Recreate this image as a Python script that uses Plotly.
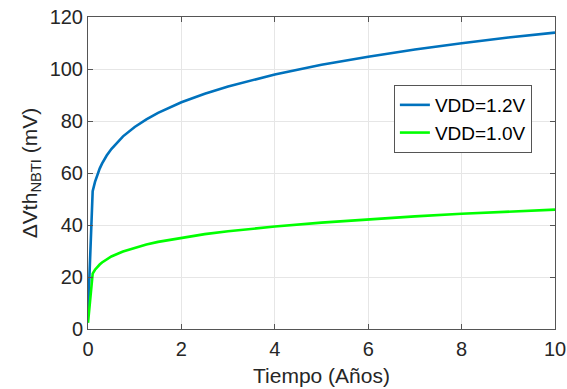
import plotly.graph_objects as go

# Threshold-voltage shift due to NBTI over time (years)
tiempo = [0, 0.1, 0.15, 0.2, 0.25, 0.3, 0.4, 0.5, 0.75, 1, 1.25, 1.5, 2, 2.5, 3,
          4, 5, 6, 7, 8, 9, 10]
dvth_12 = [5.8, 53.0, 56.6, 59.4, 61.7, 63.6, 66.7, 69.2, 74.1, 77.7, 80.6, 83.1,
           87.2, 90.5, 93.3, 97.9, 101.6, 104.7, 107.5, 109.9, 112.1, 114.0]
dvth_10 = [2.4, 21.3, 22.8, 23.9, 24.8, 25.6, 26.9, 27.9, 29.8, 31.3, 32.5, 33.5,
           35.1, 36.5, 37.6, 39.4, 40.9, 42.2, 43.3, 44.3, 45.1, 45.9]
series_names = ["VDD=1.2V", "VDD=1.0V"]
x_ticks = [0, 2, 4, 6, 8, 10]
y_ticks = [0, 20, 40, 60, 80, 100, 120]

FONT = "Liberation Sans, Arial, sans-serif"
TXT = "#262626"

fig = go.Figure()
fig.add_trace(go.Scatter(x=tiempo, y=dvth_12, mode="lines", name=series_names[0],
                         line=dict(color="#0072BD", width=2.6)))
fig.add_trace(go.Scatter(x=tiempo, y=dvth_10, mode="lines", name=series_names[1],
                         line=dict(color="#00FF00", width=2.6)))

axis_common = dict(
    showline=True, linecolor="#555555", linewidth=1, mirror="ticks",
    ticks="inside", ticklen=5, tickcolor="#555555",
    showgrid=True, gridcolor="#E6E6E6", gridwidth=1, zeroline=False,
    tickfont=dict(family=FONT, size=20, color=TXT),
    automargin=False,
)

fig.update_xaxes(range=[0, 10], tickvals=x_ticks, ticklabelstandoff=2,
                 title=dict(text="Tiempo (Años)", font=dict(family=FONT, size=21, color=TXT),
                            standoff=9),
                 **axis_common)
fig.update_yaxes(range=[0, 120], tickvals=y_ticks, ticklabelstandoff=0,
                 title=dict(text="ΔVth<sub>NBTI</sub> (mV)",
                            font=dict(family=FONT, size=21, color=TXT), standoff=6),
                 **axis_common)

fig.update_layout(
    width=567, height=389,
    margin=dict(l=88, r=12, t=17, b=60),
    paper_bgcolor="white", plot_bgcolor="white",
    font=dict(family=FONT, color=TXT),
    legend=dict(x=0.655, y=0.782, xanchor="left", yanchor="top",
                bgcolor="white", bordercolor="#555555", borderwidth=1,
                font=dict(family=FONT, size=19, color="#000000"),
                tracegroupgap=0, itemwidth=30),
)

fig.write_html("out.html")
